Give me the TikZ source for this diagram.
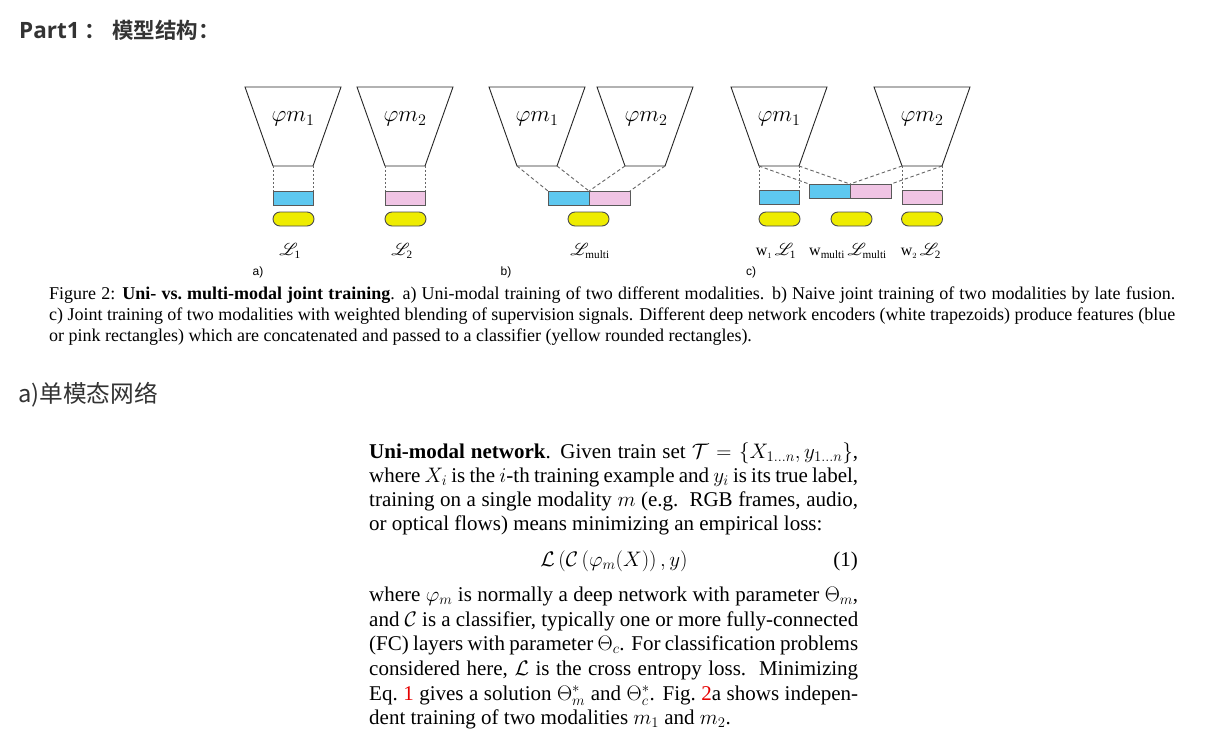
\RequirePackage{fix-cm}
\documentclass[tikz,border=0pt]{standalone}
\usepackage{amsmath}
\usepackage{mathrsfs}
\usepackage{fontspec}
\setmainfont{Liberation Serif}
\newfontfamily\cjk{Noto Sans CJK SC}[BoldFont={Noto Sans CJK SC Bold}]
\newfontfamily\osans{Open Sans}
\newfontfamily\lsans{Liberation Sans}
\definecolor{fblue}{RGB}{94,200,240}
\definecolor{fpink}{RGB}{240,196,228}
\definecolor{cyel}{RGB}{238,236,0}
\definecolor{headc}{RGB}{51,51,51}
\definecolor{refred}{RGB}{230,0,0}
\newcommand\jline[2]{\hbox to #1{#2}}
\begin{document}
\begin{tikzpicture}[x=1pt,y=-1pt,
 trap/.style={draw=black!85, line width=0.9pt, line join=miter},
 feat/.style={draw=black!65, line width=0.9pt, inner sep=0, outer sep=0, minimum height=14pt},
 cls/.style={draw=black!70, line width=0.9pt, fill=cyel, inner sep=0, outer sep=0, minimum width=41pt, minimum height=14pt, rounded corners=7pt},
 vlink/.style={draw=black!60, line width=0.8pt, dash pattern=on 2pt off 2pt},
 dlink/.style={draw=black!60, line width=0.9pt, dash pattern=on 3.5pt off 2.5pt},
 phil/.style={inner sep=0, font=\fontsize{23}{26}\selectfont},
 lossl/.style={inner sep=0, font=\fontsize{16}{18}\selectfont},
 panl/.style={inner sep=0, font=\lsans\fontsize{12}{14}\selectfont},
 body/.style={inner sep=0, anchor=base west, font=\fontsize{21}{24}\selectfont},
 capt/.style={inner sep=0, anchor=base west, font=\fontsize{18}{21}\selectfont},
]
\fill[white] (0,0) rectangle (1214,746);
\useasboundingbox (0,0) rectangle (1214,746);

% headings
\node[anchor=west, inner sep=0, text=headc, font=\cjk\bfseries\fontsize{21.5}{25}\selectfont] (h1) at (19,30) {{\osans\bfseries\fontsize{22.5}{25}\selectfont Part1}\hspace{5pt}：\hspace{6pt}模型结构：};
\node[anchor=west, inner sep=0, text=headc, font=\cjk\fontsize{23.7}{27}\selectfont] (h2) at (18,395) {a)单模态网络};

% ---------- panel a ----------
\coordinate (a1tl) at (245,87); \coordinate (a1tr) at (341,87);
\coordinate (a1br) at (313,166); \coordinate (a1bl) at (273,166);
\coordinate (a2tl) at (357,87); \coordinate (a2tr) at (453,87);
\coordinate (a2br) at (425,166); \coordinate (a2bl) at (385,166);
\draw[trap] (a1tl) -- (a1tr) -- (a1br) -- (a1bl) -- cycle;
\draw[trap] (a2tl) -- (a2tr) -- (a2br) -- (a2bl) -- cycle;
\node[phil] (a1phi) at (293,119) {$\varphi m_1$};
\node[phil] (a2phi) at (405,119) {$\varphi m_2$};
\node[feat, fill=fblue, minimum width=40pt] (af1) at (293,198) {};
\node[feat, fill=fpink, minimum width=40pt] (af2) at (405,198) {};
\draw[vlink] (a1bl) -- (af1.north west);
\draw[vlink] (a1br) -- (af1.north east);
\draw[vlink] (a2bl) -- (af2.north west);
\draw[vlink] (a2br) -- (af2.north east);
\node[cls] (ac1) at (293.5,219) {};
\node[cls] (ac2) at (405.5,219) {};
\node[lossl] (al1) at (290,251) {$\mathscr{L}_{\mathrm{1}}$};
\node[lossl] (al2) at (402,251) {$\mathscr{L}_{\mathrm{2}}$};
\node[panl] (pa) at (258,272) {a)};

% ---------- panel b ----------
\coordinate (b1tl) at (489,87); \coordinate (b1tr) at (585,87);
\coordinate (b1br) at (557,166); \coordinate (b1bl) at (517,166);
\coordinate (b2tl) at (597,87); \coordinate (b2tr) at (693,87);
\coordinate (b2br) at (665,166); \coordinate (b2bl) at (625,166);
\draw[trap] (b1tl) -- (b1tr) -- (b1br) -- (b1bl) -- cycle;
\draw[trap] (b2tl) -- (b2tr) -- (b2br) -- (b2bl) -- cycle;
\node[phil] (b1phi) at (537,119) {$\varphi m_1$};
\node[phil] (b2phi) at (646,119) {$\varphi m_2$};
\node[feat, fill=fblue, minimum width=41pt] (bf1) at (568.5,198) {};
\node[feat, fill=fpink, minimum width=41pt] (bf2) at (609.5,198) {};
\draw[dlink] (b1bl) -- (bf1.north west);
\draw[dlink] (b1br) -- (bf1.north east);
\draw[dlink] (b2bl) -- (bf2.north west);
\draw[dlink] (b2br) -- (bf2.north east);
\node[cls] (bc) at (588.5,219) {};
\node[lossl] (bl) at (590,251) {$\mathscr{L}_{\text{multi}}$};
\node[panl] (pb) at (506,272) {b)};

% ---------- panel c ----------
\coordinate (c1tl) at (731,87); \coordinate (c1tr) at (827,87);
\coordinate (c1br) at (799,166); \coordinate (c1bl) at (759,166);
\coordinate (c2tl) at (874,87); \coordinate (c2tr) at (970,87);
\coordinate (c2br) at (942,166); \coordinate (c2bl) at (902,166);
\draw[trap] (c1tl) -- (c1tr) -- (c1br) -- (c1bl) -- cycle;
\draw[trap] (c2tl) -- (c2tr) -- (c2br) -- (c2bl) -- cycle;
\node[phil] (c1phi) at (779,119) {$\varphi m_1$};
\node[phil] (c2phi) at (922,119) {$\varphi m_2$};
\node[feat, fill=fblue, minimum width=40pt] (cf1) at (779,197) {};
\node[feat, fill=fpink, minimum width=40pt] (cf2) at (922,197) {};
\node[feat, fill=fblue, minimum width=41pt] (cm1) at (829.5,191) {};
\node[feat, fill=fpink, minimum width=41pt] (cm2) at (870.5,191) {};
\draw[vlink] (c1bl) -- (cf1.north west);
\draw[vlink] (c1br) -- (cf1.north east);
\draw[vlink] (c2bl) -- (cf2.north west);
\draw[vlink] (c2br) -- (cf2.north east);
\draw[dlink] (c1bl) -- (cm1.north west);
\draw[dlink] (c1br) -- (cm1.north east);
\draw[dlink] (c2bl) -- (cm2.north west);
\draw[dlink] (c2br) -- (cm2.north east);
\node[cls] (cc1) at (779.5,219) {};
\node[cls] (cc2) at (851.5,219) {};
\node[cls] (cc3) at (922,219) {};
\node[lossl] (cl1) at (776,251) {w$_{\scriptscriptstyle 1}\,\mathscr{L}_{\mathrm{1}}$};
\node[lossl] (cl2) at (848,251) {w$_{\text{multi}}\,\mathscr{L}_{\text{multi}}$};
\node[lossl] (cl3) at (921,251) {w$_{\scriptscriptstyle 2}\,\mathscr{L}_{\mathrm{2}}$};
\node[panl] (pc) at (751,272) {c)};

% ---------- caption ----------
\node[capt] (cap1) at (49,299) {\jline{1126pt}{Figure 2: \textbf{Uni- vs.\ multi-modal joint training}. a) Uni-modal training of two different modalities. b) Naive joint training of two modalities by late fusion.}};
\node[capt] (cap2) at (49,320) {\jline{1126pt}{c) Joint training of two modalities with weighted blending of supervision signals. Different deep network encoders (white trapezoids) produce features (blue}};
\node[capt] (cap3) at (49,341) {or pink rectangles) which are concatenated and passed to a classifier (yellow rounded rectangles).};

% ---------- body text ----------
\node[body] (t1) at (369,458) {\jline{489pt}{\textbf{Uni-modal network}. Given train set $\mathcal{T}=\{X_{1\ldots n},y_{1\ldots n}\}$,}};
\node[body] (t2) at (369,482) {\jline{489pt}{where $X_i$ is the $i$-th training example and $y_i$ is its true label,}};
\node[body] (t3) at (369,506) {\jline{489pt}{training on a single modality $m$ (e.g.\ \ RGB frames, audio,}};
\node[body] (t4) at (369,530) {or optical flows) means minimizing an empirical loss:};
\node[body, anchor=base] (eq) at (614,566) {$\mathcal{L}\left(\mathcal{C}\left(\varphi_m(X)\right),y\right)$};
\node[body, anchor=base east] (eqn) at (858,566) {(1)};
\node[body] (t5) at (369,601) {\jline{489pt}{where $\varphi_m$ is normally a deep network with parameter $\Theta_m$,}};
\node[body] (t6) at (369,626) {\jline{489pt}{and $\mathcal{C}$ is a classifier, typically one or more fully-connected}};
\node[body] (t7) at (369,650) {\jline{489pt}{(FC) layers with parameter $\Theta_c$. For classification problems}};
\node[body] (t8) at (369,675) {\jline{489pt}{considered here, $\mathcal{L}$ is the cross entropy loss.\ \ Minimizing}};
\node[body] (t9) at (369,700) {\jline{489pt}{Eq.~\textcolor{refred}{1} gives a solution $\Theta_m^*$ and $\Theta_c^*$. Fig.~\textcolor{refred}{2}a shows indepen-}};
\node[body] (t10) at (369,724) {dent training of two modalities $m_1$ and $m_2$.};
\end{tikzpicture}
\end{document}
